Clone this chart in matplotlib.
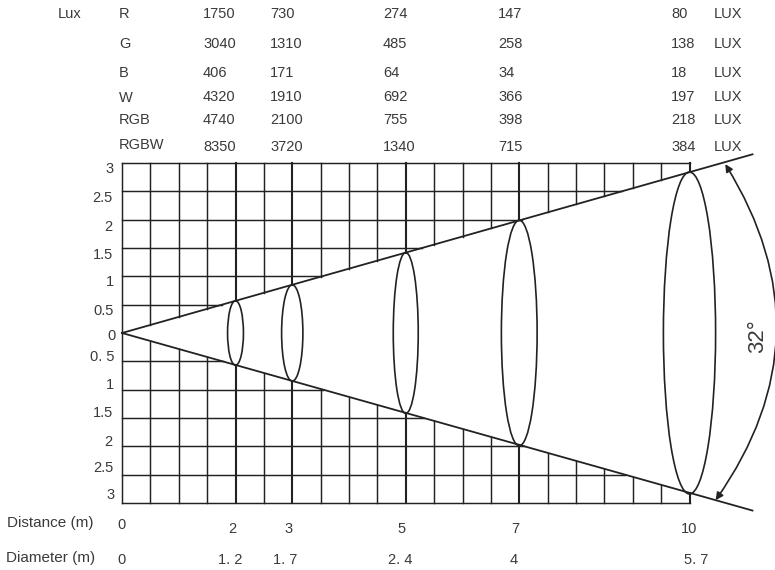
"""
Beam angle drawing: illuminance table above a cone with grid, distance and diameter rows below
"""

import numpy as np
import matplotlib
matplotlib.use("Agg")
import matplotlib.pyplot as plt
from matplotlib.patches import Ellipse, FancyArrowPatch

# table values
channels = ["R", "G", "B", "W", "RGB", "RGBW"]
lux_r = [1750, 730, 274, 147, 80]
lux_g = [3040, 1310, 485, 258, 138]
lux_b = [406, 171, 64, 34, 18]
lux_w = [4320, 1910, 692, 366, 197]
lux_rgb = [4740, 2100, 755, 398, 218]
lux_rgbw = [8350, 3720, 1340, 715, 384]

# rows below the drawing
distance_labels = ["0", "2", "3", "5", "7", "10"]
diameter_labels = ["0", "1. 2", "1. 7", "2. 4", "4", "5. 7"]
y_labels = ["3", "2.5", "2", "1.5", "1", "0.5", "0", "0. 5", "1", "1.5", "2", "2.5", "3"]

# cone
ring_distance = [2, 3, 5, 7, 10]
ring_width = [0.28, 0.375, 0.44, 0.63, 0.92]
ring_half_height = [0.57, 0.85, 1.42, 1.99, 2.84]
beam_end = 11.11
beam_slope_up = 0.2838
beam_slope_down = 0.2820
grid_max_x = 10
grid_max_y = 3

# plotting parameters
W, H = 775, 570
x0_px, y0_px = 122, 333
scale_x, scale_y = 56.75, 56.67
text_color = "#3a3a3a"
line_color = "#222222"
thick_x = [2, 3, 5, 7, 10]

plt.rcParams["font.family"] = ["Liberation Sans", "DejaVu Sans"]

fig = plt.figure(figsize=(W/100, H/100), dpi=100)
ax = fig.add_axes([0, 0, 1, 1])
ax.set_xlim(-x0_px/scale_x, (W - x0_px)/scale_x)
ax.set_ylim(-(H - y0_px)/scale_y, y0_px/scale_y)
ax.axis("off")


def put_text(x, y, s, ha="left", size=10.5, **kwargs):
    # x and y are in picture pixels, y from the top
    fig.text(x/W, 1 - (y + 1)/H, s, ha=ha, va="center", fontsize=size, color=text_color, **kwargs)


# grid, cut away inside the cone
for x in np.arange(0, grid_max_x + 0.5, 0.5):
    lw = 1.5 if x in thick_x else 1.05
    if x == 0:
        ax.plot([x, x], [-grid_max_y, grid_max_y], color=line_color, lw=lw)
    else:
        ax.plot([x, x], [x*beam_slope_up, grid_max_y], color=line_color, lw=lw)
        ax.plot([x, x], [-grid_max_y, -x*beam_slope_down], color=line_color, lw=lw)

for y in np.arange(0.5, grid_max_y + 0.5, 0.5):
    ax.plot([0, min(y/beam_slope_up, grid_max_x)], [y, y], color=line_color, lw=1.05)
    ax.plot([0, min(y/beam_slope_down, grid_max_x)], [-y, -y], color=line_color, lw=1.05)

# cone edges
ax.plot([0, beam_end], [0, beam_end*beam_slope_up], color=line_color, lw=1.3)
ax.plot([0, beam_end], [0, -beam_end*beam_slope_down], color=line_color, lw=1.3)

# rings
for d, w, h in zip(ring_distance, ring_width, ring_half_height):
    ax.add_patch(Ellipse((d, 0), w, 2*h, fill=False, edgecolor=line_color, lw=1.2))

# angle arrow
ax.add_patch(FancyArrowPatch((10.63, 2.98), (10.46, -2.95),
                             connectionstyle="arc3,rad=-0.33",
                             arrowstyle="<|-|>", mutation_scale=11,
                             color=line_color, lw=1.2, shrinkA=0, shrinkB=0))
put_text(758, 335, "32°", ha="center", size=16, rotation=90)

# lux table
put_text(58, 13, "Lux")
row_y = [13, 43, 72, 96, 119, 146]
label_y = [13, 43, 72, 97, 119, 144]
col_x = [203, 270, 383, 498, 671]
rows = [lux_r, lux_g, lux_b, lux_w, lux_rgb, lux_rgbw]
for name, values, ry, ly in zip(channels, rows, row_y, label_y):
    put_text(119, ly, name)
    for cx, v in zip(col_x, values):
        put_text(cx, ry, str(v))
    put_text(714, ry, "LUX")

# labels left of the grid
label_px_y = [168, 197, 226, 254, 281, 310, 335, 356, 384, 412, 441, 467, 494]
label_px_x = [114, 112, 112, 113, 114, 114, 116, 115, 114, 113, 112, 113, 115]
for s, lx, ly in zip(y_labels, label_px_x, label_px_y):
    put_text(lx, ly, s, ha="right")

# distance and diameter rows
put_text(7, 522, "Distance (m)", size=11)
put_text(6, 557, "Diameter (m)", size=11)
dist_x = [121, 232, 288.5, 402, 515, 689]
dist_y = [524, 528, 528, 528, 528, 528]
diam_x = [121, 230, 285.5, 400, 514, 696]
for s, dx, dy in zip(distance_labels, dist_x, dist_y):
    put_text(dx, dy, s, ha="center")
for s, dx in zip(diameter_labels, diam_x):
    put_text(dx, 559, s, ha="center")

fig.savefig("out.png", dpi=100)
plt.close(fig)
